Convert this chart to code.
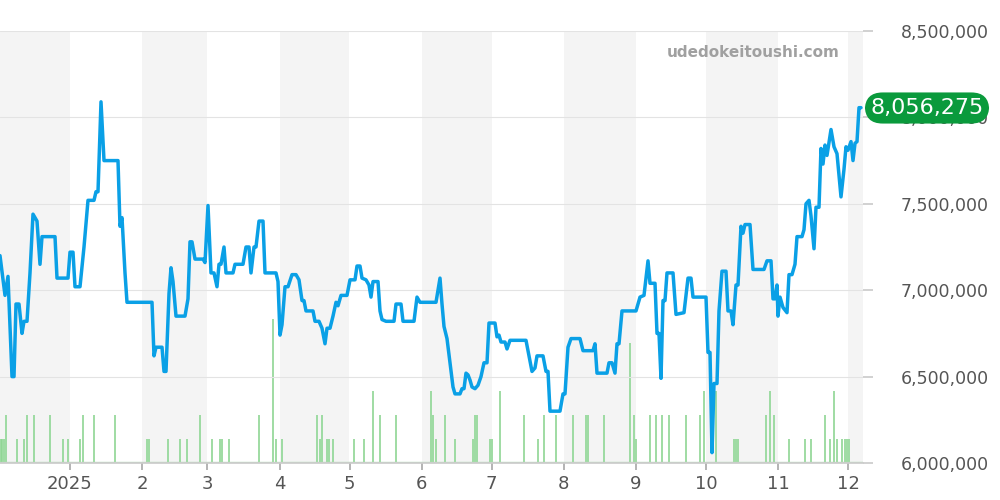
import numpy as np, pandas as pd, matplotlib
matplotlib.use("Agg")
import matplotlib.pyplot as plt, seaborn as sns

sns.set_theme(style="white")
plt.rcParams['font.family'] = ['DejaVu Sans']

# observation positions (chart px-like time units: 2.33 per day from 2024-12-02), price in millions of yen
price_pos = [0,5,8,12,14,16,19,22,24,27,30,33,37,40,42,55,57,68,70,73,75,80,84,88,94,96,98,101,104,118,120,122,125,127,152,154,156,162,164,166,169,171,173,176,185,188,190,192,195,203,205,208,211,214,217,219,221,224,226,233,235,243,246,249,251,254,256,259,263,265,276,278,280,282,285,288,292,296,299,302,304,306,313,315,319,322,325,327,330,333,336,338,341,347,350,355,357,360,362,366,369,371,373,378,380,382,386,394,396,401,403,414,417,420,436,440,442,444,447,450,453,455,460,462,464,466,468,470,472,475,478,481,484,487,489,495,497,499,501,505,507,510,526,529,532,535,537,543,546,548,550,560,563,565,568,571,580,583,593,595,597,607,609,612,615,617,619,622,636,640,644,648,650,655,657,659,661,663,665,667,673,676,684,688,691,693,706,708,710,712,714,717,719,722,726,728,731,733,736,738,741,743,745,750,753,764,767,771,773,775,777,778,780,783,787,789,792,795,797,802,804,806,809,811,814,816,819,821,823,825,827,831,834,837,841,844,846,848,851,853,855,857,859,861]
price_m = [7.20,6.97,7.08,6.50,6.50,6.92,6.92,6.75,6.82,6.82,7.10,7.44,7.40,7.15,7.31,7.31,7.07,7.07,7.22,7.22,7.02,7.02,7.25,7.52,7.52,7.57,7.57,8.09,7.75,7.75,7.37,7.42,7.10,6.93,6.93,6.62,6.67,6.67,6.53,6.53,6.98,7.13,7.05,6.85,6.85,6.95,7.28,7.28,7.18,7.18,7.16,7.49,7.10,7.10,7.02,7.15,7.15,7.25,7.10,7.10,7.15,7.15,7.25,7.25,7.10,7.25,7.25,7.40,7.40,7.10,7.10,7.05,6.74,6.80,7.02,7.02,7.09,7.09,7.06,6.94,6.94,6.88,6.88,6.82,6.82,6.78,6.69,6.78,6.78,6.85,6.93,6.91,6.97,6.97,7.06,7.06,7.14,7.14,7.07,7.06,7.03,6.96,7.05,7.05,6.88,6.83,6.82,6.82,6.92,6.92,6.82,6.82,6.96,6.93,6.93,7.07,6.92,6.79,6.72,6.58,6.44,6.40,6.40,6.43,6.43,6.52,6.51,6.48,6.44,6.43,6.45,6.50,6.58,6.58,6.81,6.81,6.73,6.74,6.70,6.70,6.66,6.71,6.71,6.62,6.53,6.55,6.62,6.62,6.53,6.53,6.30,6.30,6.40,6.40,6.67,6.72,6.72,6.65,6.65,6.69,6.52,6.52,6.58,6.58,6.52,6.69,6.69,6.88,6.88,6.96,6.97,7.17,7.04,7.04,6.75,6.75,6.49,6.94,6.94,7.10,7.10,6.86,6.87,7.07,7.07,6.96,6.96,6.64,6.64,6.06,6.46,6.46,6.88,7.11,7.11,6.88,6.88,6.80,7.03,7.03,7.37,7.33,7.38,7.38,7.12,7.12,7.17,7.17,6.95,6.95,7.03,6.85,6.96,6.90,6.87,7.09,7.09,7.15,7.31,7.31,7.35,7.50,7.52,7.43,7.24,7.48,7.48,7.82,7.73,7.84,7.78,7.93,7.83,7.79,7.54,7.70,7.83,7.81,7.86,7.75,7.85,7.86,8.056275,8.056275]
vol_pos = [0.5,2,4,6,17,24,27,34,50,63,68,80,83,94,115,147,149,168,180,187,200,212,220,222,229,259,273,276,282,317,320,322,327,329,333,354,364,373,380,396,431,433,436,445,455,473,475,477,490,492,500,524,538,544,556,573,586,588,604,630,634,636,650,656,662,669,686,700,704,716,734,736,738,766,770,774,789,805,811,825,830,834,837,842,845,847,849]
vol_n = [1,1,1,2,1,1,2,2,2,1,1,1,2,2,2,1,1,1,1,1,2,1,1,1,1,2,6,1,1,2,1,2,1,1,1,1,1,3,2,2,3,2,1,2,1,1,2,2,1,1,3,2,1,2,2,2,2,2,2,5,2,1,2,2,2,2,2,2,3,3,1,1,1,2,3,2,1,1,1,2,1,3,1,1,1,1,1]
last_label = "8,056,275"
month_labels = ["2025","2","3","4","5","6","7","8","9","10","11","12"]

start = pd.Timestamp("2024-12-02")
def to_date(p): return start + pd.to_timedelta(np.array(p)/2.33, unit="D")
df = pd.DataFrame({"date": to_date(price_pos), "price": np.array(price_m)*1e6})
vdf = pd.DataFrame({"date": to_date(vol_pos), "n": vol_n})
end = to_date([863])[0]

fig = plt.figure(figsize=(10,5), dpi=100)
ax = fig.add_axes([0, 0.074, 0.863, 0.864])
ax2 = ax.twinx()
ax.set_zorder(ax2.get_zorder()+1); ax.patch.set_visible(False)

months = pd.date_range("2024-12-01", "2026-01-01", freq="MS")
for i in range(len(months)-1):
    if i % 2 == 0:
        ax2.axvspan(months[i], months[i+1], color="#f4f4f4", lw=0, zorder=0)
for d, n in zip(vdf.date, vdf.n):
    ax2.vlines(d, 0, n, color="#8fd694", lw=1.2, zorder=2)
ax2.axhline(0.05, color="#b5deb8", lw=1, zorder=2)
ax2.set_ylim(0, 18); ax2.set_yticks([])
for s in ax2.spines.values(): s.set_visible(False)

sns.lineplot(data=df, x="date", y="price", ax=ax, color="#0aa0e6", lw=2.5, zorder=5)
ax.set_xlim(start, end); ax.set_ylim(6e6, 8.5e6)
yt = np.arange(6e6, 8.51e6, 5e5)
ax.set_yticks(yt)
ax.set_yticklabels([f"{int(v):,}" for v in yt], color="#555555", fontsize=12.5)
ax.yaxis.tick_right()
ax.tick_params(axis="y", length=7, color="#cccccc", pad=20, right=True)
for v in yt: ax.axhline(v, color="#e3e3e3", lw=0.8, zorder=1)
ax.set_xticks(months[1:13])
ax.set_xticklabels(month_labels, color="#555555", fontsize=13)
ax.tick_params(axis="x", length=5, color="#aaaaaa", bottom=True)
ax.set_xlabel(""); ax.set_ylabel("")
for k, s in ax.spines.items(): s.set_visible(k == "bottom")
ax.spines["bottom"].set_color("#cccccc")

fig.text(0.84, 0.895, "udedokeitoushi.com", ha="right", va="center", fontsize=11, fontweight="bold", color="#a0a0a0")
fig.text(0.927, 0.784, last_label, ha="center", va="center", fontsize=16, color="white",
         bbox=dict(boxstyle="round,pad=0.25,rounding_size=0.8", fc="#0a9a3c", ec="none"), zorder=10)
fig.savefig("out.png", dpi=100)
